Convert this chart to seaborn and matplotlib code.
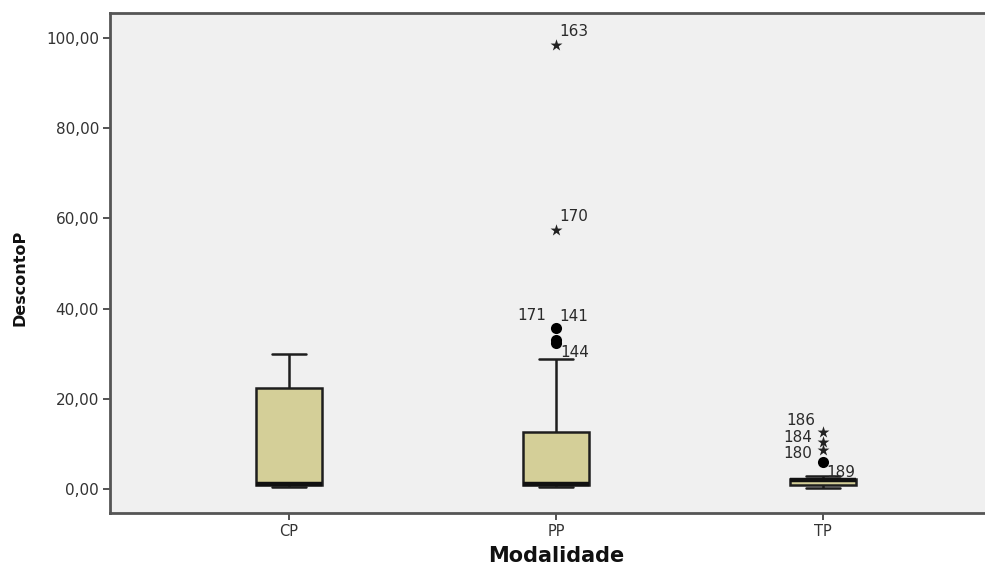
import numpy as np
import pandas as pd
import matplotlib
matplotlib.use("Agg")
import matplotlib.pyplot as plt
from matplotlib.ticker import FuncFormatter, FixedLocator
import seaborn as sns

# Desconto percentual por modalidade de licitação
modalidades = ["CP", "PP", "TP"]
desconto_cp = [0.4, 0.7, 0.9, 1.0, 1.1, 6.5, 22.4, 27.0, 30.0]
desconto_pp = [0.4, 0.5, 0.6, 0.6, 0.7, 0.7, 0.8, 0.8, 0.9, 0.9, 0.95, 1.0, 1.0,
               2.0, 3.5, 5.0, 7.5, 10.0, 12.6, 28.8, 32.4, 33.0, 35.7, 57.4, 98.4]
desconto_tp = [0.3, 0.4, 0.5, 0.6, 0.8, 0.9, 1.0, 1.2, 1.4, 1.6, 1.9, 2.0, 2.0,
               2.1, 2.1, 2.2, 2.9, 6.0, 8.6, 10.4, 12.6]

# Identificação dos casos atípicos (número do caso)
casos_grupo = ["PP", "PP", "PP", "PP", "PP", "TP", "TP", "TP", "TP"]
casos_valor = [98.4, 57.4, 35.7, 35.7, 32.4, 12.6, 10.4, 8.6, 6.0]
casos_id = ["163", "170", "171", "141", "144", "186", "184", "180", "189"]
casos_desloc = [(18, 14), (18, 14), (-24, 12), (18, 11), (19, -10),
                (-22, 12), (-25, 5), (-25, -3), (18, -11)]

valores = {"CP": desconto_cp, "PP": desconto_pp, "TP": desconto_tp}
df = pd.DataFrame(
    [(m, v) for m in modalidades for v in valores[m]],
    columns=["Modalidade", "DescontoP"],
)

# Separa atípicos (1,5 a 3 AIQ) e extremos (> 3 AIQ)
atipicos, extremos = [], []
for m in modalidades:
    arr = np.asarray(valores[m])
    q1, q3 = np.percentile(arr, [25, 75])
    iqr = q3 - q1
    for v in arr:
        if v > q3 + 3 * iqr or v < q1 - 3 * iqr:
            extremos.append((m, v))
        elif v > q3 + 1.5 * iqr or v < q1 - 1.5 * iqr:
            atipicos.append((m, v))
df_at = pd.DataFrame(atipicos, columns=["Modalidade", "DescontoP"])
df_ex = pd.DataFrame(extremos, columns=["Modalidade", "DescontoP"])

sns.set_style("ticks", {"axes.facecolor": "#f0f0f0"})
plt.rcParams["font.family"] = ["DejaVu Sans"]

fig = plt.figure(figsize=(9.85, 5.68), dpi=100)
ax = fig.add_axes([110 / 985, 55 / 568, 892 / 985, 500 / 568])

sns.boxplot(
    data=df, x="Modalidade", y="DescontoP", order=modalidades,
    width=0.25, color="#d4cf98", saturation=1, linecolor="#1e1e1e",
    linewidth=1.8, whis=1.5, showfliers=False,
    medianprops={"linewidth": 3.2, "color": "#111111"}, ax=ax,
)
sns.stripplot(
    data=df_at, x="Modalidade", y="DescontoP", order=modalidades,
    jitter=False, color="black", marker="o", size=8, linewidth=0, ax=ax,
)
sns.stripplot(
    data=df_ex, x="Modalidade", y="DescontoP", order=modalidades,
    jitter=False, color="#222222", marker="*", size=9, linewidth=0, ax=ax,
)

for g, v, t, (dx, dy) in zip(casos_grupo, casos_valor, casos_id, casos_desloc):
    ax.annotate(t, xy=(modalidades.index(g), v), xytext=(dx, dy),
                textcoords="offset pixels", ha="center", va="center",
                fontsize=11, color="#2a2a2a")

ax.set_xlim(-0.67, 2.67)
ax.set_ylim(-5.32, 105.5)
ax.yaxis.set_major_locator(FixedLocator([0, 20, 40, 60, 80, 100]))
ax.yaxis.set_major_formatter(FuncFormatter(lambda v, p: f"{v:.2f}".replace(".", ",")))

for side in ["left", "bottom", "top"]:
    ax.spines[side].set_color("#555555")
    ax.spines[side].set_linewidth(2)
ax.spines["right"].set_visible(False)
ax.tick_params(axis="both", direction="out", length=5, width=1.3,
               color="#444444", labelcolor="#333333", pad=3)
ax.tick_params(axis="y", labelsize=11)
ax.tick_params(axis="x", labelsize=10.5)

ax.set_xlabel("Modalidade", fontsize=15, fontweight="bold", color="#111111", labelpad=5)
ax.set_ylabel("DescontoP", fontsize=11.5, fontweight="bold", color="#111111")
ax.yaxis.set_label_coords(-0.093, 0.47)

fig.savefig("out.png", dpi=100, facecolor="white")
